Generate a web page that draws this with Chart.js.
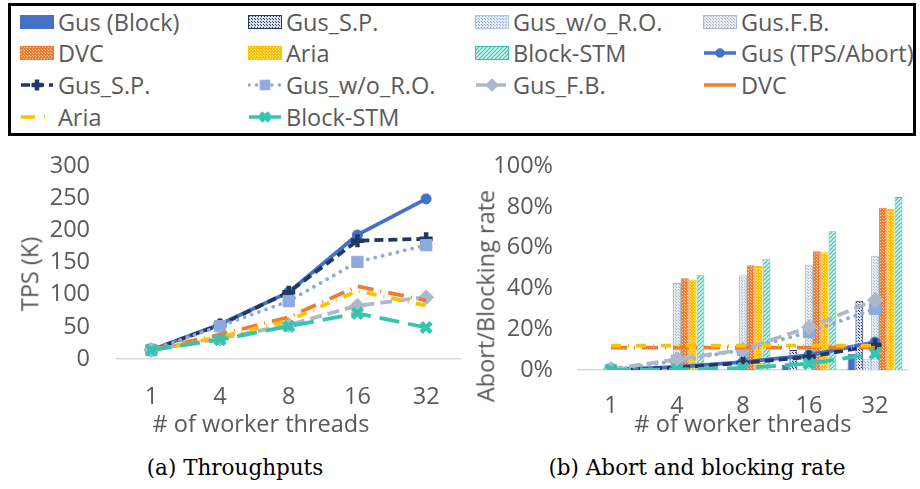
<!DOCTYPE html>
<html>
<head>
<meta charset="utf-8">
<script src="https://cdn.jsdelivr.net/npm/chart.js@4.4.1/dist/chart.umd.min.js"></script>
<style>
  body { margin: 0; background: #fff; width: 920px; height: 489px; position: relative; overflow: hidden;
         font-family: 'Open Sans', sans-serif; color: #595959; }
  #legendBox { position: absolute; left: 8px; top: 3px; width: 902px; height: 127px; border: 3px solid #000; }
  .lg { position: absolute; font-size: 23.5px; line-height: 26px; white-space: nowrap; }
  .lg canvas { position: absolute; left: 0; top: 3px; }
  .lg span { position: absolute; left: 38px; top: 0; }
  canvas.chart { position: absolute; }
  .atitle { position: absolute; font-size: 23.5px; line-height: 1; white-space: nowrap; transform: translate(-50%, -50%); }
  .rot { transform: translate(-50%, -50%) rotate(-90deg); }
  .cap { position: absolute; font-family: 'DejaVu Serif', serif; color: #000; font-size: 21.5px;
         white-space: nowrap; transform: translate(-50%, -50%); }
</style>
</head>
<body>
<div id="legendBox"></div>
<div id="legend"></div>

<canvas id="chartTps" class="chart" width="472" height="300" style="left:0;top:125px"></canvas>
<canvas id="chartRate" class="chart" width="455" height="300" style="left:465px;top:127px"></canvas>

<div class="atitle rot" style="left:30px;top:274px">TPS (K)</div>
<div class="atitle rot" style="left:486px;top:296px">Abort/Blocking rate</div>
<div class="atitle" style="left:261px;top:424px"># of worker threads</div>
<div class="atitle" style="left:743px;top:424px"># of worker threads</div>

<div class="cap" style="left:235px;top:467px">(a) Throughputs</div>
<div class="cap" style="left:697px;top:467px">(b) Abort and blocking rate</div>

<script>
// categories
const threads = ['1', '4', '8', '16', '32'];

// (a) throughput, K TPS
const tpsGus       = [14, 54, 104, 193, 249];
const tpsGusSP     = [14, 53, 104, 184, 187];
const tpsGusWoRO   = [14, 51, 90, 151, 177];
const tpsGusFB     = [14, 32, 53, 83, 96];
const tpsDVC       = [14, 38, 65, 113, 91];
const tpsAria      = [14, 34, 60, 106, 83];
const tpsBlockSTM  = [14, 30, 51, 71, 49];

// (b) blocking rate bars, %
const blockGus      = [0, 0, 0, 2.6, 8];
const blockGusSP    = [0, 0, 0, 9.8, 34];
const blockGusWoRO  = [0, 0, 0, 0.5, 5.5];
const blockGusFB    = [0, 42.7, 46.5, 51.6, 56];
const blockDVC      = [0, 45, 51.4, 58.3, 79.6];
const blockAria     = [0, 44.4, 51, 57.8, 79];
const blockBlockSTM = [0, 46.5, 54.3, 68, 84.8];

// (b) abort rate lines, %
const abortGus      = [0, 1.5, 3.9, 7.3, 13.7];
const abortGusSP    = [0, 1.2, 3.5, 6.4, 12.2];
const abortGusWoRO  = [0, 4.5, 9.8, 18.6, 30];
const abortGusFB    = [0.5, 5.2, 10, 21, 34.3];
const abortDVC      = [11, 11, 11, 11, 11];
const abortAria     = [12, 12, 12, 12, 12];
const abortBlockSTM = [0, 0.3, 1, 3.1, 8];

// axis ranges
const tpsMax = 300, tpsStep = 50;
const rateMax = 100, rateStep = 20;

const barNames  = ['Gus (Block)', 'Gus_S.P.', 'Gus_w/o_R.O.', 'Gus.F.B.', 'DVC', 'Aria', 'Block-STM'];
const lineNames = ['Gus (TPS/Abort)', 'Gus_S.P.', 'Gus_w/o_R.O.', 'Gus_F.B.', 'DVC', 'Aria', 'Block-STM'];

const textColor = '#595959';
const tickFont = { family: 'Open Sans', size: 23.5 };

// fill patterns for the bars
function dotPattern(bg, dot, size) {
  const c = document.createElement('canvas');
  c.width = c.height = size;
  const g = c.getContext('2d');
  g.fillStyle = bg;
  g.fillRect(0, 0, size, size);
  g.fillStyle = dot;
  g.fillRect(0, 0, 1, 1);
  g.fillRect(Math.floor(size / 2), Math.floor(size / 2), 1, 1);
  return g.createPattern(c, 'repeat');
}
function hatchPattern(bg, line) {
  const c = document.createElement('canvas');
  c.width = c.height = 4;
  const g = c.getContext('2d');
  g.fillStyle = bg;
  g.fillRect(0, 0, 4, 4);
  g.strokeStyle = line;
  g.lineWidth = 1.2;
  g.beginPath();
  g.moveTo(-1, 5); g.lineTo(5, -1);
  g.moveTo(-1, 1); g.lineTo(1, -1);
  g.moveTo(3, 5); g.lineTo(5, 3);
  g.stroke();
  return g.createPattern(c, 'repeat');
}

const barStyles = [
  { fill: '#4472C4', border: '#4472C4' },
  { fill: dotPattern('#DDE2EA', '#203864', 3), border: '#203864' },
  { fill: dotPattern('#E3EAF6', '#8FAADC', 3), border: '#B4C7E7' },
  { fill: dotPattern('#E6E9EE', '#ADB9CA', 3), border: '#ADB9CA' },
  { fill: dotPattern('#ED7D31', '#F8CBAD', 3), border: '#ED7D31' },
  { fill: dotPattern('#FFC000', '#FFE699', 3), border: '#FFC000' },
  { fill: hatchPattern('#DFF5F2', '#35C4B0'), border: '#35C4B0' }
];

const lineStyles = [
  { color: '#4472C4', dash: [], point: 'circle', r: 5, pw: 1 },
  { color: '#203864', dash: [9, 5], point: 'cross', r: 6.5, pw: 4.5 },
  { color: '#8FAADC', dash: [0.1, 7.5], cap: 'round', point: 'rect', r: 8, pw: 1 },
  { color: '#ADB9CA', dash: [12, 6], point: 'rectRot', r: 7.5, pw: 1 },
  { color: '#ED7D31', dash: [16, 7, 1, 7], legendDash: [], point: false },
  { color: '#FFC000', dash: [10, 7, 1, 7], legendDash: [14, 9, 1, 9], point: false },
  { color: '#35C4B0', dash: [20, 9], legendDash: [], point: 'crossRot', r: 7, pw: 4.5 }
];

function lineDataset(i, data) {
  const s = lineStyles[i];
  return {
    type: 'line',
    label: lineNames[i],
    data: data,
    borderColor: s.color,
    backgroundColor: s.color,
    borderWidth: 3.8,
    borderDash: s.dash,
    borderCapStyle: s.cap || 'butt',
    pointStyle: s.point,
    pointRadius: s.point ? s.r : 0,
    pointBorderWidth: s.pw || 1,
    pointBackgroundColor: s.color,
    pointBorderColor: s.color,
    tension: 0,
    order: 7 - i
  };
}

function barDataset(i, data) {
  const s = barStyles[i];
  return {
    type: 'bar',
    label: barNames[i],
    data: data,
    backgroundColor: s.fill,
    borderColor: s.border,
    borderWidth: 1,
    barPercentage: 1,
    categoryPercentage: 0.83,
    order: 10
  };
}

const xAxis = (h, pad) => ({
  type: 'category',
  offset: true,
  grid: { display: false, drawTicks: false },
  border: { color: '#D9D9D9', width: 1.5 },
  ticks: { font: tickFont, color: textColor, padding: pad, maxRotation: 0 },
  afterFit: (s) => { s.height = h; }
});

const yAxis = (max, step, w, pad, fmt) => ({
  min: 0,
  max: max,
  grid: { display: false, drawTicks: false },
  border: { display: false },
  ticks: { stepSize: step, autoSkip: false, font: tickFont, color: textColor, padding: pad, callback: fmt },
  afterFit: (s) => { s.width = w; }
});

const common = {
  responsive: false,
  animation: false,
  devicePixelRatio: 1,
  plugins: { legend: { display: false }, tooltip: { enabled: false } }
};

new Chart(document.getElementById('chartTps'), {
  type: 'line',
  data: {
    labels: threads,
    datasets: [
      lineDataset(0, tpsGus),
      lineDataset(1, tpsGusSP),
      lineDataset(2, tpsGusWoRO),
      lineDataset(3, tpsGusFB),
      lineDataset(4, tpsDVC),
      lineDataset(5, tpsAria),
      lineDataset(6, tpsBlockSTM)
    ]
  },
  options: Object.assign({}, common, {
    layout: { padding: { left: 0, right: 3, top: 18, bottom: 0 } },
    scales: {
      x: xAxis(66, 24),
      y: yAxis(tpsMax, tpsStep, 117, 27, (v) => v)
    }
  })
});

new Chart(document.getElementById('chartRate'), {
  type: 'bar',
  data: {
    labels: threads,
    datasets: [
      barDataset(0, blockGus),
      barDataset(1, blockGusSP),
      barDataset(2, blockGusWoRO),
      barDataset(3, blockGusFB),
      barDataset(4, blockDVC),
      barDataset(5, blockAria),
      barDataset(6, blockBlockSTM),
      lineDataset(0, abortGus),
      lineDataset(1, abortGusSP),
      lineDataset(2, abortGusWoRO),
      lineDataset(3, abortGusFB),
      lineDataset(4, abortDVC),
      lineDataset(5, abortAria),
      lineDataset(6, abortBlockSTM)
    ]
  },
  options: Object.assign({}, common, {
    layout: { padding: { left: 0, right: 12, top: 19, bottom: 0 } },
    scales: {
      x: xAxis(57, 22),
      y: yAxis(rateMax, rateStep, 113, 25, (v) => v + '%')
    }
  })
});

// legend, 4 columns x 4 rows
const legendCols = [20, 248, 475, 703];
const legendRows = [22, 53, 85, 117];
const legendItems = barNames.map((n, i) => ({ kind: 'bar', i: i, name: n }))
  .concat(lineNames.map((n, i) => ({ kind: 'line', i: i, name: n })));

const legendEl = document.getElementById('legend');
legendItems.forEach((item, k) => {
  const div = document.createElement('div');
  div.className = 'lg';
  div.style.left = legendCols[k % 4] + 'px';
  div.style.top = (legendRows[Math.floor(k / 4)] - 13) + 'px';
  const cv = document.createElement('canvas');
  cv.width = 34; cv.height = 20;
  const g = cv.getContext('2d');
  if (item.kind === 'bar') {
    const s = barStyles[item.i];
    g.fillStyle = s.fill;
    g.fillRect(0.5, 3.5, 33, 13);
    g.strokeStyle = s.border;
    g.lineWidth = 1;
    g.strokeRect(0.5, 3.5, 33, 13);
  } else {
    const s = lineStyles[item.i];
    g.strokeStyle = s.color;
    g.fillStyle = s.color;
    g.lineWidth = 3.5;
    g.lineCap = s.cap || 'butt';
    g.setLineDash(s.legendDash || s.dash);
    g.beginPath();
    g.moveTo(1, 10); g.lineTo(33, 10);
    g.stroke();
    g.setLineDash([]);
    if (s.point) {
      g.lineWidth = s.pw;
      g.lineCap = 'butt';
      Chart.helpers.drawPoint(g, { pointStyle: s.point, radius: s.r * 0.85, rotation: 0, borderWidth: s.pw }, 17, 10);
    }
  }
  const sp = document.createElement('span');
  sp.textContent = item.name;
  div.appendChild(cv);
  div.appendChild(sp);
  legendEl.appendChild(div);
});
</script>
</body>
</html>
